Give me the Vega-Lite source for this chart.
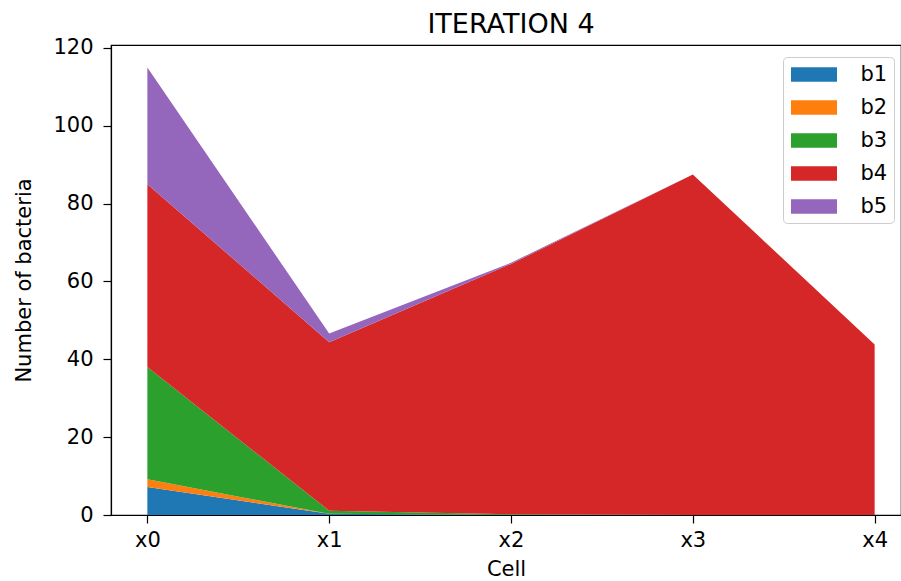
{
  "$schema": "https://vega.github.io/schema/vega-lite/v6.json",
  "width": 790,
  "height": 470,
  "autosize": {"type": "none"},
  "padding": {"left": 111, "top": 45, "right": 0, "bottom": 66},
  "title": {"text": "ITERATION 4", "fontSize": 27, "font": "DejaVu Sans", "fontWeight": "normal", "color": "black", "anchor": "middle", "baseline": "alphabetic", "offset": 5, "dx": 5, "dy": 28},
  "data": {
    "values": [
      {"cell": 0, "series": "b1", "value": 7.2},
      {"cell": 0, "series": "b2", "value": 2},
      {"cell": 0, "series": "b3", "value": 28.8},
      {"cell": 0, "series": "b4", "value": 47},
      {"cell": 0, "series": "b5", "value": 30},
      {"cell": 1, "series": "b1", "value": 0.3},
      {"cell": 1, "series": "b2", "value": 0},
      {"cell": 1, "series": "b3", "value": 0.8},
      {"cell": 1, "series": "b4", "value": 43.3},
      {"cell": 1, "series": "b5", "value": 2.2},
      {"cell": 2, "series": "b1", "value": 0},
      {"cell": 2, "series": "b2", "value": 0},
      {"cell": 2, "series": "b3", "value": 0.2},
      {"cell": 2, "series": "b4", "value": 64.3},
      {"cell": 2, "series": "b5", "value": 0.3},
      {"cell": 3, "series": "b1", "value": 0},
      {"cell": 3, "series": "b2", "value": 0},
      {"cell": 3, "series": "b3", "value": 0},
      {"cell": 3, "series": "b4", "value": 87.5},
      {"cell": 3, "series": "b5", "value": 0},
      {"cell": 4, "series": "b1", "value": 0},
      {"cell": 4, "series": "b2", "value": 0},
      {"cell": 4, "series": "b3", "value": 0},
      {"cell": 4, "series": "b4", "value": 43.8},
      {"cell": 4, "series": "b5", "value": 0}
    ]
  },
  "mark": {"type": "area", "interpolate": "linear", "opacity": 1},
  "encoding": {
    "x": {
      "field": "cell",
      "type": "quantitative",
      "scale": {"domain": [-0.2, 4.145], "nice": false, "zero": false},
      "axis": {"values": [0, 1, 2, 3, 4], "labelExpr": "'x' + datum.value", "title": "Cell", "titlePadding": 8, "labelPadding": 6}
    },
    "y": {
      "field": "value",
      "type": "quantitative",
      "stack": "zero",
      "scale": {"domain": [0, 120.75], "nice": false},
      "axis": {"values": [0, 20, 40, 60, 80, 100, 120], "title": "Number of bacteria", "titlePadding": 18, "labelPadding": 10}
    },
    "color": {
      "field": "series",
      "type": "nominal",
      "scale": {"domain": ["b1", "b2", "b3", "b4", "b5"], "range": ["#1f77b4", "#ff7f0e", "#2ca02c", "#d62728", "#9467bd"]},
      "legend": {
        "title": null,
        "orient": "none",
        "legendX": 672,
        "legendY": 12,
        "symbolType": "M-2,-0.64H2V0.64H-2Z",
        "symbolSize": 529,
        "symbolOffset": 13.5,
        "symbolStrokeWidth": 0,
        "symbolOpacity": 1,
        "labelFontSize": 21,
        "labelOffset": 35,
        "labelExpr": "datum.label + '\u00a0'",
        "rowPadding": 11,
        "padding": 6,
        "strokeColor": "#cccccc",
        "fillColor": "white",
        "cornerRadius": 4
      }
    },
    "order": {"field": "series", "type": "ordinal"}
  },
  "config": {
    "font": "DejaVu Sans",
    "view": {"stroke": "black", "strokeWidth": 1.2},
    "axis": {
      "grid": false,
      "domainColor": "black",
      "domainWidth": 1.2,
      "tickColor": "black",
      "tickWidth": 1.2,
      "tickSize": 8,
      "labelColor": "black",
      "labelFontSize": 21,
      "labelFont": "DejaVu Sans",
      "titleColor": "black",
      "titleFontSize": 21,
      "titleFont": "DejaVu Sans",
      "titleFontWeight": "normal"
    },
    "legend": {"labelColor": "black", "labelFont": "DejaVu Sans"}
  }
}
